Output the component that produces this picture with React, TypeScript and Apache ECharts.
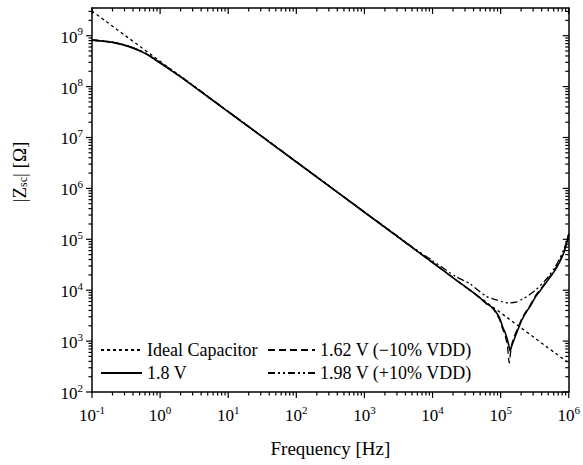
import React, { useEffect, useRef } from "react";
import * as echarts from "echarts";

// Axis extents
const X_MIN = 0.1;
const X_MAX = 1e6;
const Y_MIN = 100;
const Y_MAX = 3.5e9;

// Decade exponents and minor-tick multipliers
const xExponents = [-1, 0, 1, 2, 3, 4, 5, 6];
const yExponents = [2, 3, 4, 5, 6, 7, 8, 9];
const minorMultipliers = [2, 3, 4, 5, 6, 7, 8, 9];

// Ideal capacitor
const idealFreq = [0.1, 1e6];
const idealZ = [3.05e9, 370];

// 1.8 V
const freq18 = [0.1, 0.2, 0.35, 0.6, 1, 2, 5, 10, 100, 1e3, 1e4, 2.2e4, 4.4e4, 6.1e4, 7.5e4, 8.5e4, 9.7e4, 1.07e5, 1.18e5, 1.26e5, 1.33e5, 1.38e5, 1.45e5, 1.57e5, 1.7e5, 1.86e5, 2.05e5, 2.32e5, 2.75e5, 3.25e5, 3.85e5, 4.54e5, 5.4e5, 6.34e5, 7.3e5, 8.37e5, 9.2e5, 1e6];
const z18 = [8.2e8, 7.4e8, 6.1e8, 4.5e8, 2.9e8, 1.55e8, 6.3e7, 3.2e7, 3.3e6, 3.4e5, 3.5e4, 1.6e4, 8.1e3, 5.6e3, 4.6e3, 3.76e3, 2.8e3, 1.9e3, 1.4e3, 1.05e3, 780, 640, 800, 1.05e3, 1.4e3, 1.9e3, 2.6e3, 3.5e3, 5.0e3, 7.4e3, 1.0e4, 1.35e4, 1.85e4, 2.5e4, 3.5e4, 5.2e4, 8.0e4, 1.25e5];

// 1.62 V (-10% VDD)
const freq162 = [0.1, 0.2, 0.35, 0.6, 1, 2, 5, 10, 100, 1e3, 1e4, 2.2e4, 4.4e4, 6.1e4, 7.5e4, 8.5e4, 9.7e4, 1.07e5, 1.18e5, 1.26e5, 1.31e5, 1.34e5, 1.4e5, 1.47e5, 1.57e5, 1.7e5, 1.86e5, 2.05e5, 2.32e5, 2.75e5, 3.25e5, 3.85e5, 4.54e5, 5.4e5, 6.34e5, 7.3e5, 8.37e5, 9.2e5, 1e6];
const z162 = [8.2e8, 7.4e8, 6.15e8, 4.55e8, 2.95e8, 1.57e8, 6.4e7, 3.25e7, 3.35e6, 3.45e5, 3.5e4, 1.6e4, 8.0e3, 5.5e3, 4.5e3, 3.6e3, 2.6e3, 1.75e3, 1.2e3, 800, 450, 370, 600, 900, 1.2e3, 1.55e3, 2.05e3, 2.8e3, 3.7e3, 5.3e3, 7.8e3, 1.05e4, 1.42e4, 1.95e4, 2.65e4, 3.7e4, 5.5e4, 8.3e4, 1.3e5];

// 1.98 V (+10% VDD)
const freq198 = [0.1, 0.2, 0.35, 0.6, 1, 2, 5, 10, 100, 1e3, 3e3, 5e3, 1e4, 2.2e4, 3.5e4, 6.1e4, 8.5e4, 1.07e5, 1.33e5, 1.65e5, 2.08e5, 2.6e5, 3.25e5, 4.54e5, 6.34e5, 8.37e5, 1e6];
const z198 = [8.3e8, 7.5e8, 6.2e8, 4.6e8, 3.0e8, 1.6e8, 6.5e7, 3.25e7, 3.35e6, 3.45e5, 1.18e5, 7.1e4, 3.8e4, 1.85e4, 1.35e4, 7.6e3, 6.5e3, 5.9e3, 5.6e3, 5.8e3, 6.6e3, 8.0e3, 1.0e4, 1.57e4, 2.86e4, 6.1e4, 1.15e5];

const pairs = (xs: number[], ys: number[]) => xs.map((x, i) => [x, ys[i]]);

const buildTicks = (exps: number[], max: number) => {
  const out: { v: number; major: number }[] = [];
  exps.forEach((e) => {
    const base = Math.pow(10, e);
    if (base <= max) out.push({ v: base, major: 1 });
    minorMultipliers.forEach((m) => {
      const v = m * base;
      if (v < max) out.push({ v, major: 0 });
    });
  });
  return out;
};

const FONT = "Liberation Serif";
const INK = "#000";

const powLabel = (v: number) => {
  const e = Math.log10(v);
  const r = Math.round(e);
  if (Math.abs(e - r) > 1e-6) return "";
  return `{b|10}{s|${r}}`;
};

const labelRich = {
  b: { fontFamily: FONT, fontSize: 17, color: INK, lineHeight: 20, verticalAlign: "bottom" },
  s: { fontFamily: FONT, fontSize: 11, color: INK, lineHeight: 20, verticalAlign: "top" },
};

export default function App() {
  const ref = useRef<HTMLDivElement>(null);

  useEffect(() => {
    if (!ref.current) return;
    const chart = echarts.init(ref.current, null, { renderer: "svg" });

    const xTicks = buildTicks(xExponents, X_MAX);
    const yTicks = buildTicks(yExponents, Y_MAX);

    const lineSeries = (name: string, data: number[][], type: any, width: number) => ({
      name,
      type: "line",
      data,
      symbol: "none",
      smooth: 0.2,
      lineStyle: { color: INK, width, type },
      itemStyle: { color: INK },
      z: 3,
    });

    const legendBase = {
      orient: "vertical",
      top: 340,
      padding: 0,
      itemHeight: 14,
      itemGap: 3,
      itemStyle: { color: "transparent", borderColor: "transparent", borderWidth: 0, opacity: 0 },
      textStyle: { fontFamily: FONT, fontSize: 18, color: INK, lineHeight: 20 },
    };

    const option: any = {
      animation: false,
      backgroundColor: "#fff",
      textStyle: { fontFamily: FONT, color: INK },
      grid: { left: 92, right: 9, top: 8, bottom: 73 },
      graphic: [
        {
          type: "text",
          x: 19,
          y: 172,
          rotation: Math.PI / 2,
          style: {
            text: "|Z{sub|sc}| [Ω]",
            font: `19px ${FONT}`,
            fontFamily: FONT,
            fontSize: 19,
            fill: INK,
            align: "center",
            verticalAlign: "middle",
            rich: {
              sub: { fontFamily: FONT, fontSize: 12, fill: INK, verticalAlign: "bottom", padding: [8, 0, 0, 0] },
            },
          },
        },
      ],
      xAxis: [
        {
          type: "log",
          min: X_MIN,
          max: X_MAX,
          logBase: 10,
          splitNumber: 7,
          name: "Frequency [Hz]",
          nameLocation: "middle",
          nameGap: 47,
          nameTextStyle: { fontFamily: FONT, fontSize: 19, color: INK },
          axisLine: { show: true, onZero: false, lineStyle: { color: INK, width: 1.5 } },
          axisTick: { show: false },
          splitLine: { show: false },
          axisLabel: { margin: 12, formatter: powLabel, rich: labelRich, showMinLabel: true, showMaxLabel: true },
        },
        {
          type: "log",
          position: "top",
          min: X_MIN,
          max: X_MAX,
          axisLine: { show: true, onZero: false, lineStyle: { color: INK, width: 1.5 } },
          axisTick: { show: false },
          axisLabel: { show: false },
          splitLine: { show: false },
        },
      ],
      yAxis: [
        {
          type: "log",
          min: Y_MIN,
          max: Y_MAX,
          logBase: 10,
          splitNumber: 8,
          axisLine: { show: true, onZero: false, lineStyle: { color: INK, width: 1.5 } },
          axisTick: { show: false },
          splitLine: { show: false },
          axisLabel: { margin: 9, formatter: powLabel, rich: labelRich, showMaxLabel: false },
        },
        {
          type: "log",
          position: "right",
          min: Y_MIN,
          max: Y_MAX,
          axisLine: { show: true, onZero: false, lineStyle: { color: INK, width: 1.5 } },
          axisTick: { show: false },
          axisLabel: { show: false },
          splitLine: { show: false },
        },
      ],
      legend: [
        {
          ...legendBase,
          data: ["Ideal Capacitor", "1.8 V"],
          left: 100,
          itemWidth: 41,
        },
        {
          ...legendBase,
          data: ["1.62 V (\u221210% VDD)", "1.98 V (+10% VDD)"],
          left: 267,
          itemWidth: 47,
        },
      ],
      series: [
        lineSeries("Ideal Capacitor", pairs(idealFreq, idealZ), [3, 3], 1.3),
        lineSeries("1.8 V", pairs(freq18, z18), "solid", 1.6),
        lineSeries("1.62 V (\u221210% VDD)", pairs(freq162, z162), [7, 4], 1.3),
        lineSeries("1.98 V (+10% VDD)", pairs(freq198, z198), [7, 3, 2, 3, 2, 3], 1.3),
        {
          type: "custom",
          silent: true,
          clip: false,
          data: xTicks.map((t) => [t.v, Y_MIN, t.major]),
          renderItem: (_p: any, api: any) => {
            const v = api.value(0);
            const len = api.value(2) ? 6 : 3.5;
            const b = api.coord([v, Y_MIN]);
            const t = api.coord([v, Y_MAX]);
            const style = { stroke: INK, lineWidth: 1.2 };
            return {
              type: "group",
              children: [
                { type: "line", shape: { x1: b[0], y1: b[1], x2: b[0], y2: b[1] + len }, style },
                { type: "line", shape: { x1: t[0], y1: t[1], x2: t[0], y2: t[1] + len }, style },
              ],
            };
          },
          z: 4,
        },
        {
          type: "custom",
          silent: true,
          clip: false,
          data: yTicks.map((t) => [X_MIN, t.v, t.major]),
          renderItem: (_p: any, api: any) => {
            const v = api.value(1);
            const len = api.value(2) ? 6 : 3.5;
            const l = api.coord([X_MIN, v]);
            const r = api.coord([X_MAX, v]);
            const style = { stroke: INK, lineWidth: 1.2 };
            return {
              type: "group",
              children: [
                { type: "line", shape: { x1: l[0], y1: l[1], x2: l[0] - len, y2: l[1] }, style },
                { type: "line", shape: { x1: r[0], y1: r[1], x2: r[0] - len, y2: r[1] }, style },
              ],
            };
          },
          z: 4,
        },
      ],
    };

    chart.setOption(option);
    return () => chart.dispose();
  }, []);

  return (
    <div
      ref={ref}
      style={{ position: "fixed", left: 0, top: 0, width: 583, height: 465, background: "#fff" }}
    />
  );
}
